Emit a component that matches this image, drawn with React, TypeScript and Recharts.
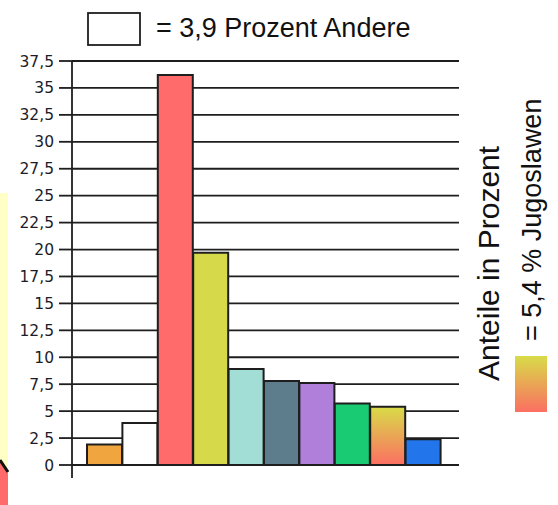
import { BarChart, Bar, Cell, XAxis, YAxis, CartesianGrid } from 'recharts'

const groups = ['Türken', 'Andere', 'Italiener', 'Griechen', 'Spanier', 'Portugiesen', 'Polen', 'Österreicher', 'Jugoslawen', 'Sonstige']
const shares = [1.9, 3.9, 36.2, 19.7, 8.9, 7.8, 7.6, 5.7, 5.4, 2.4]
const colors = ['#f0a53f', '#ffffff', '#ff6b6b', '#d6d94a', '#a3ded6', '#5e7d8c', '#b07fda', '#19cb73', 'url(#jugo)', '#2275ea']
const yTicks = [0, 2.5, 5, 7.5, 10, 12.5, 15, 17.5, 20, 22.5, 25, 27.5, 30, 32.5, 35, 37.5]

const data = groups.map((name, i) => ({ name, value: shares[i] }))

const ARIAL = '"Liberation Sans", Arial, sans-serif'

export default function App() {
  return (
    <div style={{ position: 'absolute', left: 0, top: 0, width: 558, height: 505, background: '#fff', overflow: 'hidden' }}>
      <BarChart
        width={558}
        height={505}
        data={data}
        margin={{ top: 61, right: 99, bottom: 40, left: 0 }}
        barCategoryGap={0}
      >
        <defs>
          <linearGradient id="jugo" x1="0" y1="0" x2="0" y2="1">
            <stop offset="0%" stopColor="#d8dc48" />
            <stop offset="100%" stopColor="#fb6f62" />
          </linearGradient>
        </defs>
        <CartesianGrid vertical={false} stroke="#1e1e1e" strokeWidth={1.8} />
        <XAxis dataKey="name" hide padding={{ left: 15, right: 18 }} />
        <YAxis
          width={72}
          domain={[0, 37.5]}
          ticks={yTicks}
          interval={0}
          tickSize={13}
          tickMargin={5}
          tickLine={{ stroke: '#1e1e1e', strokeWidth: 1.8 }}
          axisLine={{ stroke: '#1e1e1e', strokeWidth: 1.8 }}
          tick={{ fill: '#1c1c2a', fontSize: 15.5, fontFamily: '"DejaVu Sans", Verdana, sans-serif' }}
          tickFormatter={(v: number) => String(v).replace('.', ',')}
        />
        <Bar dataKey="value" stroke="#1e1e1e" strokeWidth={2} isAnimationActive={false}>
          {data.map((d, i) => (
            <Cell key={d.name} fill={colors[i]} />
          ))}
        </Bar>
      </BarChart>

      <svg width={558} height={505} style={{ position: 'absolute', left: 0, top: 0, pointerEvents: 'none' }}>
        <defs>
          <linearGradient id="swatch" x1="0" y1="0" x2="0" y2="1">
            <stop offset="0%" stopColor="#d8dc48" />
            <stop offset="100%" stopColor="#fb6f62" />
          </linearGradient>
        </defs>
        {/* leftover edge of neighbouring graphic */}
        <rect x={0} y={193} width={8} height={280} fill="#ffffc6" />
        <path d="M0,461 L8,473 L8,505 L0,505 Z" fill="#ff6b6b" />
        <line x1={0} y1={460} x2={8} y2={472} stroke="#111" strokeWidth={3} />

        {/* axis runs a bit past zero */}
        <line x1={72} y1={465} x2={72} y2={478} stroke="#1e1e1e" strokeWidth={1.8} />

        <rect x={88} y={13} width={52} height={32} fill="#fff" stroke="#1e1e1e" strokeWidth={1.8} />
        <text x={156} y={37} fontSize={27} fontFamily={ARIAL} fill="#111">= 3,9 Prozent Andere</text>

        <text transform="translate(499,381) rotate(-90)" fontSize={30} fontFamily={ARIAL} fill="#111">Anteile in Prozent</text>
        <text transform="translate(541,341) rotate(-90)" fontSize={27} fontFamily={ARIAL} fill="#111">= 5,4 % Jugoslawen</text>
        <rect x={515} y={356} width={32} height={56} fill="url(#swatch)" />
      </svg>
    </div>
  )
}
